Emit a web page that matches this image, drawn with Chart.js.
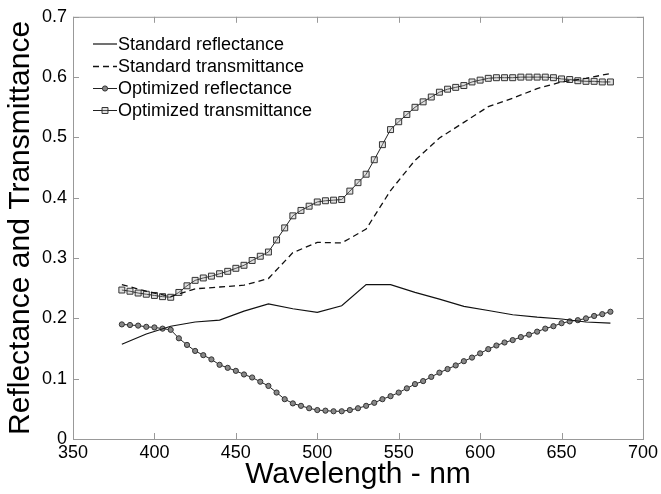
<!DOCTYPE html>
<html>
<head>
<meta charset="utf-8">
<script src="https://cdn.jsdelivr.net/npm/chart.js@4.4.0/dist/chart.umd.min.js"></script>
<style>
  body { margin: 0; background: #fff; }
  canvas { display: block; }
</style>
</head>
<body>
<canvas id="spectraChart" width="661" height="494"></canvas>
<script>
// standard curves, sampled every 15 nm
const stdWavelength = [380, 395, 410, 425, 440, 455, 470, 485, 500, 515, 530,
  545, 560, 575, 590, 605, 620, 635, 650, 665, 680];
const stdReflectance = [0.157, 0.174, 0.187, 0.194, 0.197, 0.212, 0.224, 0.216, 0.210, 0.221, 0.256,
  0.256, 0.243, 0.232, 0.220, 0.213, 0.206, 0.202, 0.199, 0.194, 0.192];
const stdTransmittance = [0.256, 0.245, 0.236, 0.249, 0.252, 0.255, 0.266, 0.309, 0.326, 0.325, 0.348,
  0.412, 0.462, 0.499, 0.525, 0.551, 0.565, 0.581, 0.592, 0.598, 0.606];

// optimized curves, sampled every 5 nm
const optWavelength = [380, 385, 390, 395, 400, 405, 410, 415, 420, 425, 430, 435, 440, 445, 450,
  455, 460, 465, 470, 475, 480, 485, 490, 495, 500, 505, 510, 515, 520, 525, 530,
  535, 540, 545, 550, 555, 560, 565, 570, 575, 580, 585, 590, 595, 600, 605, 610,
  615, 620, 625, 630, 635, 640, 645, 650, 655, 660, 665, 670, 675, 680];
const optReflectance = [0.190, 0.189, 0.188, 0.186, 0.185, 0.183, 0.181, 0.167, 0.156, 0.146, 0.139,
  0.132, 0.123, 0.118, 0.113, 0.107, 0.102, 0.095, 0.088, 0.077, 0.066, 0.059, 0.055,
  0.051, 0.048, 0.047, 0.046, 0.046, 0.048, 0.051, 0.055, 0.060, 0.066, 0.071, 0.077,
  0.084, 0.091, 0.096, 0.103, 0.110, 0.116, 0.122, 0.129, 0.135, 0.142, 0.149, 0.155,
  0.160, 0.164, 0.169, 0.173, 0.178, 0.183, 0.187, 0.192, 0.195, 0.197, 0.200, 0.204,
  0.207, 0.211];
const optTransmittance = [0.247, 0.245, 0.242, 0.240, 0.238, 0.236, 0.235, 0.243, 0.254, 0.263, 0.267,
  0.270, 0.274, 0.278, 0.283, 0.288, 0.296, 0.303, 0.310, 0.330, 0.350, 0.370, 0.379,
  0.386, 0.393, 0.395, 0.396, 0.397, 0.411, 0.425, 0.439, 0.463, 0.488, 0.513, 0.526,
  0.538, 0.550, 0.559, 0.567, 0.575, 0.580, 0.583, 0.586, 0.592, 0.595, 0.598, 0.599,
  0.599, 0.599, 0.600, 0.600, 0.600, 0.600, 0.599, 0.597, 0.596, 0.594, 0.593, 0.593,
  0.592, 0.592];

const seriesNames = ["Standard reflectance", "Standard transmittance",
  "Optimized reflectance", "Optimized transmittance"];

const xTicks = [350, 400, 450, 500, 550, 600, 650, 700];
const yTicks = [0, 0.1, 0.2, 0.3, 0.4, 0.5, 0.6, 0.7];
const yTickLabels = ["0", "0.1", "0.2", "0.3", "0.4", "0.5", "0.6", "0.7"];

const FONT = "'Liberation Sans', Arial, sans-serif";

function toPoints(xs, ys) {
  return xs.map((x, i) => ({ x: x, y: ys[i] }));
}

/* box round the plot + inward ticks on all four sides */
const boxPlugin = {
  id: "matlabBox",
  afterDraw(chart) {
    const { ctx, chartArea: a, scales } = chart;
    ctx.save();
    ctx.strokeStyle = "#999";
    ctx.lineWidth = 1;
    ctx.strokeRect(a.left + 0.5, a.top + 0.5, a.right - a.left, a.bottom - a.top);
    const len = 6;
    ctx.beginPath();
    xTicks.forEach(v => {
      const px = Math.round(scales.x.getPixelForValue(v)) + 0.5;
      ctx.moveTo(px, a.bottom); ctx.lineTo(px, a.bottom - len);
      ctx.moveTo(px, a.top); ctx.lineTo(px, a.top + len);
    });
    yTicks.forEach(v => {
      const py = Math.round(scales.y.getPixelForValue(v)) + 0.5;
      ctx.moveTo(a.left, py); ctx.lineTo(a.left + len, py);
      ctx.moveTo(a.right, py); ctx.lineTo(a.right - len, py);
    });
    ctx.stroke();
    ctx.restore();
  }
};

/* legend with no frame, line + marker sample */
const legendRows = [44, 66.5, 88.5, 110.5];
const legendPlugin = {
  id: "plainLegend",
  afterDraw(chart) {
    const ctx = chart.ctx;
    ctx.save();
    ctx.font = "18px " + FONT;
    ctx.textBaseline = "middle";
    chart.data.datasets.forEach((ds, i) => {
      const y = legendRows[i];
      ctx.strokeStyle = ds.borderColor;
      ctx.lineWidth = ds.borderWidth;
      ctx.setLineDash(ds.borderDash || []);
      ctx.beginPath();
      ctx.moveTo(93, y);
      ctx.lineTo(117, y);
      ctx.stroke();
      ctx.setLineDash([]);
      if (ds.pointRadius > 0) {
        ctx.fillStyle = ds.pointBackgroundColor;
        ctx.strokeStyle = ds.pointBorderColor;
        ctx.lineWidth = ds.pointBorderWidth;
        ctx.beginPath();
        if (ds.pointStyle === "rect") {
          const s = ds.pointRadius * Math.SQRT1_2;
          ctx.rect(105 - s, y - s, 2 * s, 2 * s);
        } else {
          ctx.arc(105, y, ds.pointRadius, 0, Math.PI * 2);
        }
        ctx.fill();
        ctx.stroke();
      }
      ctx.fillStyle = "#000";
      ctx.fillText(ds.label, 118, y + 1);
    });
    ctx.restore();
  }
};

const ctx = document.getElementById("spectraChart").getContext("2d");

new Chart(ctx, {
  type: "line",
  data: {
    datasets: [
      {
        label: seriesNames[0],
        data: toPoints(stdWavelength, stdReflectance),
        borderColor: "#111",
        borderWidth: 1.2,
        pointRadius: 0,
        tension: 0
      },
      {
        label: seriesNames[1],
        data: toPoints(stdWavelength, stdTransmittance),
        borderColor: "#111",
        borderWidth: 1.3,
        borderDash: [6, 4],
        pointRadius: 0,
        tension: 0
      },
      {
        label: seriesNames[2],
        data: toPoints(optWavelength, optReflectance),
        borderColor: "#222",
        borderWidth: 1,
        pointStyle: "circle",
        pointRadius: 2.6,
        pointBackgroundColor: "#888",
        pointBorderColor: "#333",
        pointBorderWidth: 1,
        tension: 0
      },
      {
        label: seriesNames[3],
        data: toPoints(optWavelength, optTransmittance),
        borderColor: "#222",
        borderWidth: 1,
        pointStyle: "rect",
        pointRadius: 4.2,
        pointBackgroundColor: "rgba(170,170,170,0.35)",
        pointBorderColor: "#333",
        pointBorderWidth: 1,
        tension: 0
      }
    ]
  },
  options: {
    responsive: false,
    animation: false,
    devicePixelRatio: 1,
    layout: { padding: { top: 16, right: 17, left: 0, bottom: 0 } },
    plugins: {
      legend: { display: false },
      tooltip: { enabled: false }
    },
    scales: {
      x: {
        type: "linear",
        min: 350,
        max: 700,
        afterBuildTicks: s => { s.ticks = xTicks.map(v => ({ value: v })); },
        afterFit: s => { s.height = 55; },
        grid: { display: false, drawTicks: false },
        border: { display: false },
        ticks: {
          color: "#000",
          font: { family: FONT, size: 18 },
          padding: 3,
          maxRotation: 0,
          autoSkip: false
        },
        title: {
          display: true,
          text: "Wavelength - nm",
          color: "#000",
          font: { family: FONT, size: 30 },
          padding: { top: 0, bottom: 1 }
        }
      },
      y: {
        type: "linear",
        min: 0,
        max: 0.7,
        afterBuildTicks: s => { s.ticks = yTicks.map(v => ({ value: v })); },
        afterFit: s => { s.width = 73; },
        grid: { display: false, drawTicks: false },
        border: { display: false },
        ticks: {
          color: "#000",
          font: { family: FONT, size: 18 },
          padding: 6,
          autoSkip: false,
          callback: (v, i) => yTickLabels[i]
        },
        title: {
          display: true,
          text: "Reflectance and Transmittance",
          color: "#000",
          font: { family: FONT, size: 30 },
          padding: { top: 3, bottom: 0 }
        }
      }
    }
  },
  plugins: [boxPlugin, legendPlugin]
});
</script>
</body>
</html>
